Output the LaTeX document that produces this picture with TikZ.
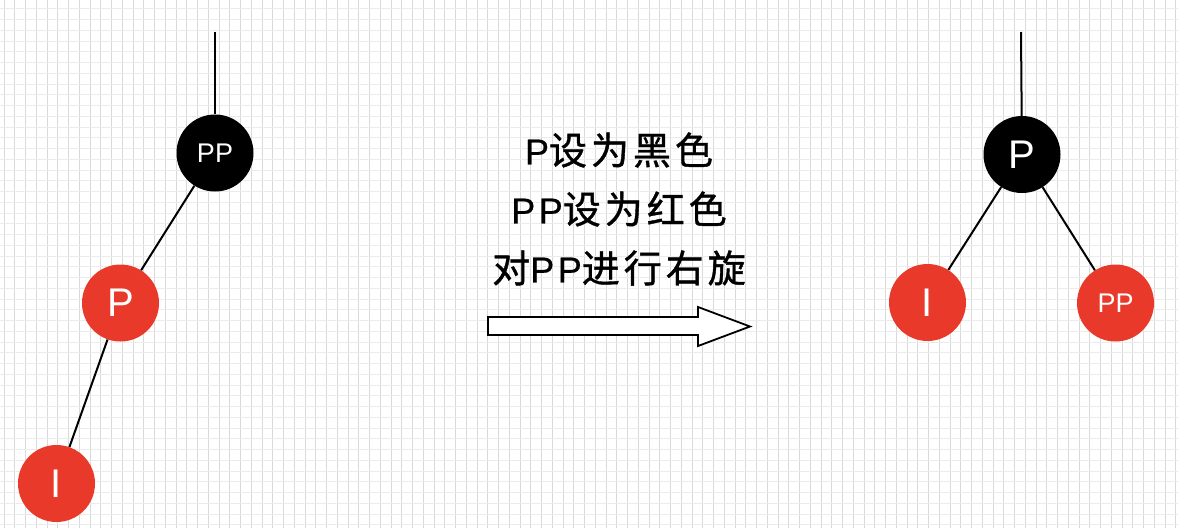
\documentclass[tikz,border=0pt]{standalone}
\usepackage{fontspec}
\setmainfont{Liberation Sans}
\newfontfamily\cjk[LetterSpace=10.5,FakeBold=1]{Noto Sans CJK SC}
\newfontfamily\latinP[LetterSpace=10,FakeBold=0.6]{Liberation Sans}
\definecolor{rbred}{RGB}{233,57,42}
\begin{document}
\begin{tikzpicture}[x=1pt,y=-1pt,
  rbnode/.style={circle,minimum size=77pt,inner sep=0pt,text=white},
  blacknode/.style={rbnode,fill=black},
  rednode/.style={rbnode,fill=rbred},
  edge/.style={line width=2pt,black},
  bigtext/.style={font=\fontsize{40}{40}\selectfont},
  smalltext/.style={font=\fontsize{27}{27}\selectfont},
  caption/.style={font=\fontsize{38}{38}\selectfont\cjk,inner sep=0pt},
  latintext/.style={font=\fontsize{36}{36}\selectfont\latinP},
  vgrid/.style={black!15,line width=1pt},
  hgrid/.style={black!8,line width=1pt},
  arrowbox/.style={fill=white,draw=black,line width=1.8pt,line join=miter}]
\useasboundingbox (0,0) rectangle (1178,528);
\fill[white] (0,0) rectangle (1178,528);
\foreach \k in {0,...,109} {\draw[vgrid] (4+10.75*\k,0) -- (4+10.75*\k,528);}
\foreach \k in {0,...,48} {\draw[hgrid] (0,8.75+10.75*\k) -- (1178,8.75+10.75*\k);}

% left tree
\coordinate (ltop) at (215,32);
\node[blacknode,smalltext] (lpp) at (215,153) {PP};
\node[rednode,bigtext] (lp) at (120.5,303) {P};
\node[rednode,bigtext] (li) at (56.5,483.5) {I};
\draw[edge] (ltop) -- (lpp);
\draw[edge] (lpp) -- (lp);
\draw[edge] (lp) -- (li);

% right tree
\coordinate (rtop) at (1021,32);
\node[blacknode,bigtext] (rp) at (1022,154.5) {P};
\node[rednode,bigtext] (ri) at (927.5,302.5) {I};
\node[rednode,smalltext] (rpp) at (1115.5,303) {PP};
\draw[edge] (rtop) -- (rp);
\draw[edge] (rp) -- (ri);
\draw[edge] (rp) -- (rpp);

% caption
\node[caption] (t1) at (619,150) {{\fontsize{36}{36}\latinP P}设为黑色};
\node[caption] (t2) at (619,209) {{\fontsize{36}{36}\latinP PP}设为红色};
\node[caption] (t3) at (619,268) {对{\fontsize{36}{36}\latinP PP}进行右旋};

% arrow
\draw[arrowbox] (488,317) -- (698,317) -- (698,307) -- (750,326.5) -- (698,346) -- (698,335) -- (488,335) -- cycle;
\end{tikzpicture}
\end{document}
